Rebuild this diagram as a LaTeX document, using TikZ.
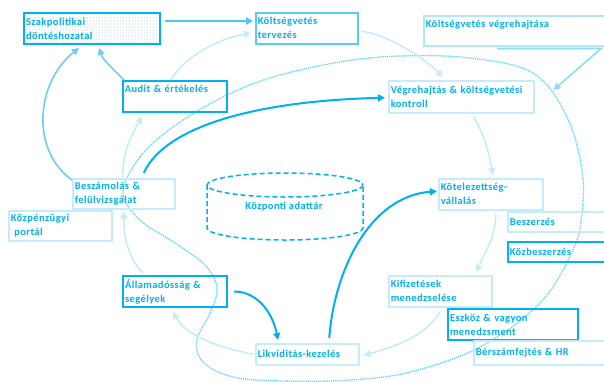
\documentclass[tikz,border=0pt]{standalone}
\usepackage{fontspec}
\setmainfont{Carlito}[LetterSpace=4]
\usetikzlibrary{arrows.meta, patterns}
\definecolor{fmBlue}{RGB}{0, 176, 240}
\definecolor{fmMid}{RGB}{110, 205, 244}
\definecolor{fmLight}{RGB}{198, 236, 251}
\definecolor{fmDots}{RGB}{120, 180, 215}

\begin{document}
\begin{tikzpicture}[x=1pt, y=-1pt,
    box/.style={rectangle, draw=fmLight, line width=1.5pt, anchor=north west, inner xsep=2pt, inner ysep=1pt, align=left, text=fmBlue, font=\fontsize{10.5}{14}\selectfont\bfseries},
    sz/.style 2 args={minimum width=#1pt, minimum height=#2pt, text width=#1pt-4pt},
    thickbox/.style={draw=fmBlue, line width=2pt},
    arr/.style={-{Triangle[length=7pt, width=7pt]}, line width=1.6pt, fmLight},
    arrmid/.style={arr, fmMid},
    arrstrong/.style={arr, fmBlue, line width=2pt},
    ring/.style={fmBlue!60, line width=1.3pt, dash pattern=on 1.2pt off 0.9pt},
    store/.style={fmBlue, line width=1.5pt, dash pattern=on 5pt off 3pt}
  ]
  \clip (0,0) rectangle (604,381);
  \draw[ring] plot[smooth cycle, tension=0.6] coordinates {(123,192) (140,157) (173,127) (223,97) (273,77) (340,62) (400,56) (470,58) (533,73) (567,117) (582,170) (582,213) (573,250) (540,303) (480,347) (410,372) (350,380) (283,381) (233,377) (203,362) (197,340) (210,313) (217,288) (205,265) (175,243) (140,220)};

  \node[box, sz={136}{31}, thickbox, pattern=dots, pattern color=fmDots] (szak) at (23,12) {Szakpolitikai\\döntéshozatal};
  \node[box, sz={102}{31}, draw=fmBlue!65] (tervezes) at (255,12) {Költségvetés\\tervezés};
  \node[box, sz={190}{30}, draw=fmBlue!30] (vegreh) at (423,15) {Költségvetés végrehajtása\\\mbox{}};
  \node[box, sz={104}{31}, draw=fmBlue] (audit) at (122,80) {Audit \& értékelés\\\mbox{}};
  \node[box, sz={145}{32}] (kontroll) at (388,80) {Végrehajtás \& költségvetési\\kontroll};
  \node[box, sz={102}{30}] (beszamolas) at (72,178) {Beszámolás \&\\felülvizsgálat};
  \node[box, sz={104}{31}] (kotelez) at (438,178) {Kötelezettség-\\vállalás};
  \node[box, sz={110}{20}] (beszerzes) at (507,211) {Beszerzés};
  \node[box, sz={110}{20}, draw=fmBlue] (kozbeszerzes) at (507,241) {Közbeszerzés};
  \node[box, sz={103}{30}] (portal) at (8,210) {Közpénzügyi\\\ portál};
  \node[box, sz={104}{31}, thickbox] (allam) at (122,275) {Államadósság \&\\segélyek};
  \node[box, sz={103}{31}] (kifizetes) at (388,275) {Kifizetések\\menedzselése};
  \node[box, sz={130}{31}, thickbox] (eszkoz) at (447,308) {Eszköz \& vagyon\\menedzsment};
  \node[box, sz={103}{21}] (likviditas) at (255,343) {Likviditás-kezelés};
  \node[box, sz={140}{24}] (berszam) at (473,340) {Bérszámfejtés \& HR};

  \draw[store] (285,185) ellipse [x radius=78, y radius=12];
  \draw[store] (207,185) -- (207,228) arc[start angle=180, end angle=0, x radius=78, y radius=12] -- (363,185);
  \node[text=fmBlue, font=\fontsize{10.5}{14}\selectfont\bfseries] (adattar) at (284,207) {Központi adattár};

  \draw[arrmid, line width=2.5pt, fmBlue!70] ([shift={(4,9)}]szak.north east) -- ([shift={(-2,9)}]tervezes.north west);
  \draw[arr] ([xshift=-4pt]audit.north) .. controls +(15,-25) and +(-31,5) .. ([shift={(-4,5)}]tervezes.west);
  \draw[arrmid] ([xshift=2pt]audit.north west) .. controls +(-12,-12) and +(4,12) .. ([shift={(7,3)}]szak.south);
  \draw[arrmid] ([shift={(0,2)}]beszamolas.north west) .. controls +(-42,-30) and +(-43,34) .. ([shift={(-13,3)}]szak.south);
  \draw[arr] ([shift={(3,3)}]tervezes.east) .. controls +(25,3) and +(-20,-20) .. ([shift={(55,-3)}]kontroll.north west);
  \draw[arrmid, fmBlue!45] ([shift={(74,2)}]vegreh.south west) -- ([shift={(178,2)}]vegreh.south west) -- ([shift={(19,10)}]kontroll.north east);
  \draw[arrstrong] ([shift={(20,-5)}]beszamolas.north) .. controls +(22,-48) and +(-125,3) .. ([shift={(-3,1)}]kontroll.west);
  \draw[arr] ([shift={(12,3)}]kontroll.south) .. controls +(10,15) and +(-3,-20) .. ([shift={(2,-3)}]kotelez.north);
  \draw[arr] ([shift={(5,3)}]kotelez.south) .. controls +(0,25) and +(8,-20) .. ([shift={(-16,-3)}]kifizetes.north east);
  \draw[arr] ([shift={(0,4)}]kifizetes.south) .. controls +(-15,25) and +(30,-8) .. ([shift={(4,1)}]likviditas.east);
  \draw[arrstrong] ([shift={(22,-5)}]likviditas.north) .. controls +(5,-68) and +(-67,5) .. ([shift={(-1,-3)}]kotelez.west);
  \draw[arrstrong] ([xshift=6pt]allam.east) .. controls +(25,0) and +(-5,-25) .. ([shift={(23,-3)}]likviditas.north west);
  \draw[arr] ([xshift=-2pt]likviditas.west) .. controls +(-40,-8) and +(12,22) .. ([shift={(-2,4)}]allam.south);
  \draw[arr] ([shift={(21,-2)}]allam.north west) .. controls +(-15,-15) and +(0,25) .. ([shift={(0,2)}]beszamolas.south);
  \draw[arr] ([shift={(-1,-1)}]beszamolas.north) .. controls +(0,-30) and +(-8,15) .. ([shift={(20,4)}]audit.south west);
\end{tikzpicture}
\end{document}
